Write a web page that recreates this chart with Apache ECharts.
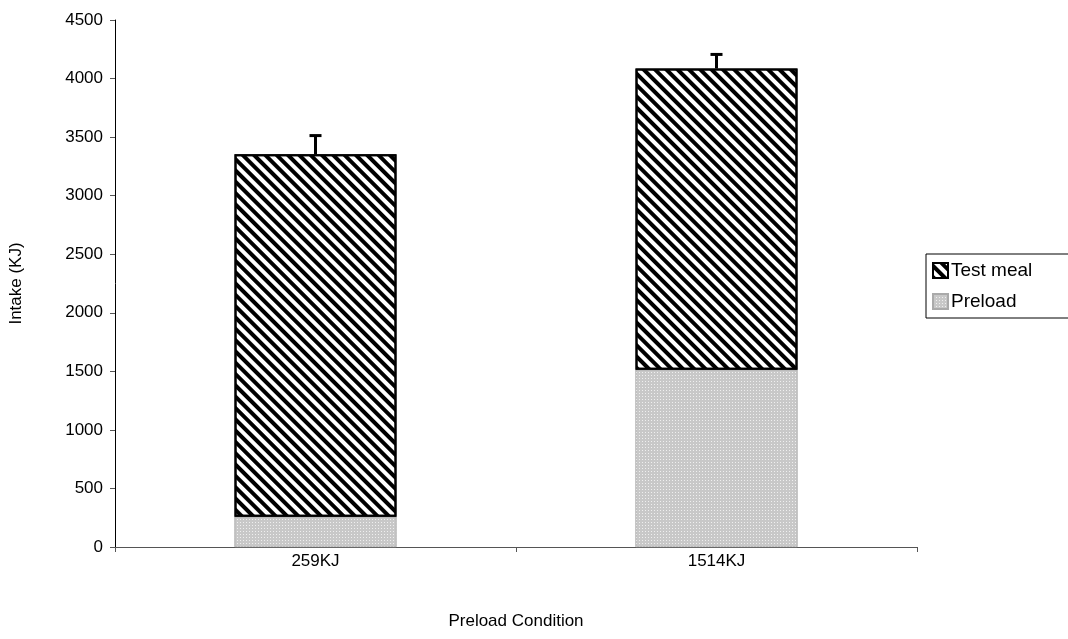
<!DOCTYPE html>
<html>
<head>
<meta charset="utf-8">
<script src="https://cdn.jsdelivr.net/npm/echarts@6/dist/echarts.min.js"></script>
<style>
  html, body { margin: 0; padding: 0; background: #fff; }
  #chart { width: 1068px; height: 639px; }
</style>
</head>
<body>
<div id="chart"></div>
<script>
  // data
  var categories = ['259KJ', '1514KJ'];
  var preload = [259, 1514];
  var testMeal = [3094, 2572];
  var errUp = [160, 120];
  var yTicks = [0, 4500, 500]; // min, max, step

  var totals = preload.map(function (p, i) { return p + testMeal[i]; });
  var errData = totals.map(function (t, i) { return [i, t, t + errUp[i]]; });

  var chart = echarts.init(document.getElementById('chart'));

  chart.setOption({
    animation: false,
    textStyle: { fontFamily: 'Liberation Sans, Arial, sans-serif' },
    grid: { left: 114, right: 151, top: 20, bottom: 92 },
    legend: {
      orient: 'vertical',
      left: 926, top: 254,
      icon: 'rect',
      itemWidth: 15, itemHeight: 15, itemGap: 12,
      padding: [7, 60, 7, 6],
      borderColor: '#000', borderWidth: 1,
      textStyle: { fontSize: 19, color: '#000', padding: [0, 0, 0, -2] },
      data: ['Test meal', 'Preload']
    },
    xAxis: {
      type: 'category',
      data: categories,
      name: 'Preload Condition',
      nameLocation: 'middle',
      nameGap: 66,
      nameTextStyle: { fontSize: 17, color: '#000' },
      axisLine: { lineStyle: { color: '#555', width: 1 } },
      axisTick: { show: true, length: 5, lineStyle: { color: '#555' } },
      axisLabel: { fontSize: 17, color: '#000', margin: 6 }
    },
    yAxis: {
      type: 'value',
      min: yTicks[0], max: yTicks[1], interval: yTicks[2],
      name: 'Intake (KJ)',
      nameLocation: 'middle',
      nameGap: 90,
      nameTextStyle: { fontSize: 17, color: '#000' },
      axisLine: { show: true, lineStyle: { color: '#000', width: 1 } },
      axisTick: { show: true, length: 5, lineStyle: { color: '#555' } },
      axisLabel: { fontSize: 17, color: '#000', margin: 12, formatter: function (v) { return String(v); } },
      splitLine: { show: false }
    },
    series: [{
      name: 'Preload',
      type: 'bar',
      stack: 'intake',
      barWidth: 162,
      data: preload,
      itemStyle: {
        color: '#c8c8c8',
        borderColor: '#aaa',
        borderWidth: 0.5,
        decal: {
          symbol: 'rect',
          symbolSize: 1,
          color: 'rgba(255,255,255,0.7)',
          dashArrayX: [1, 2],
          dashArrayY: [1, 2]
        }
      }
    }, {
      name: 'Test meal',
      type: 'bar',
      stack: 'intake',
      data: testMeal,
      itemStyle: {
        color: '#fff',
        borderColor: '#000',
        borderWidth: 2,
        decal: {
          symbol: 'rect',
          color: '#000',
          dashArrayX: [1, 0],
          dashArrayY: [4, 4],
          rotation: Math.PI / 4
        }
      }
    }, {
      name: 'err',
      type: 'custom',
      data: errData,
      z: 5,
      renderItem: function (params, api) {
        var lo = api.coord([api.value(0), api.value(1)]);
        var hi = api.coord([api.value(0), api.value(2)]);
        return {
          type: 'group',
          children: [{
            type: 'line',
            shape: { x1: lo[0], y1: lo[1], x2: hi[0], y2: hi[1] },
            style: { stroke: '#000', lineWidth: 3 }
          }, {
            type: 'line',
            shape: { x1: hi[0] - 6, y1: hi[1], x2: hi[0] + 6, y2: hi[1] },
            style: { stroke: '#000', lineWidth: 3 }
          }]
        };
      }
    }]
  });
</script>
</body>
</html>
